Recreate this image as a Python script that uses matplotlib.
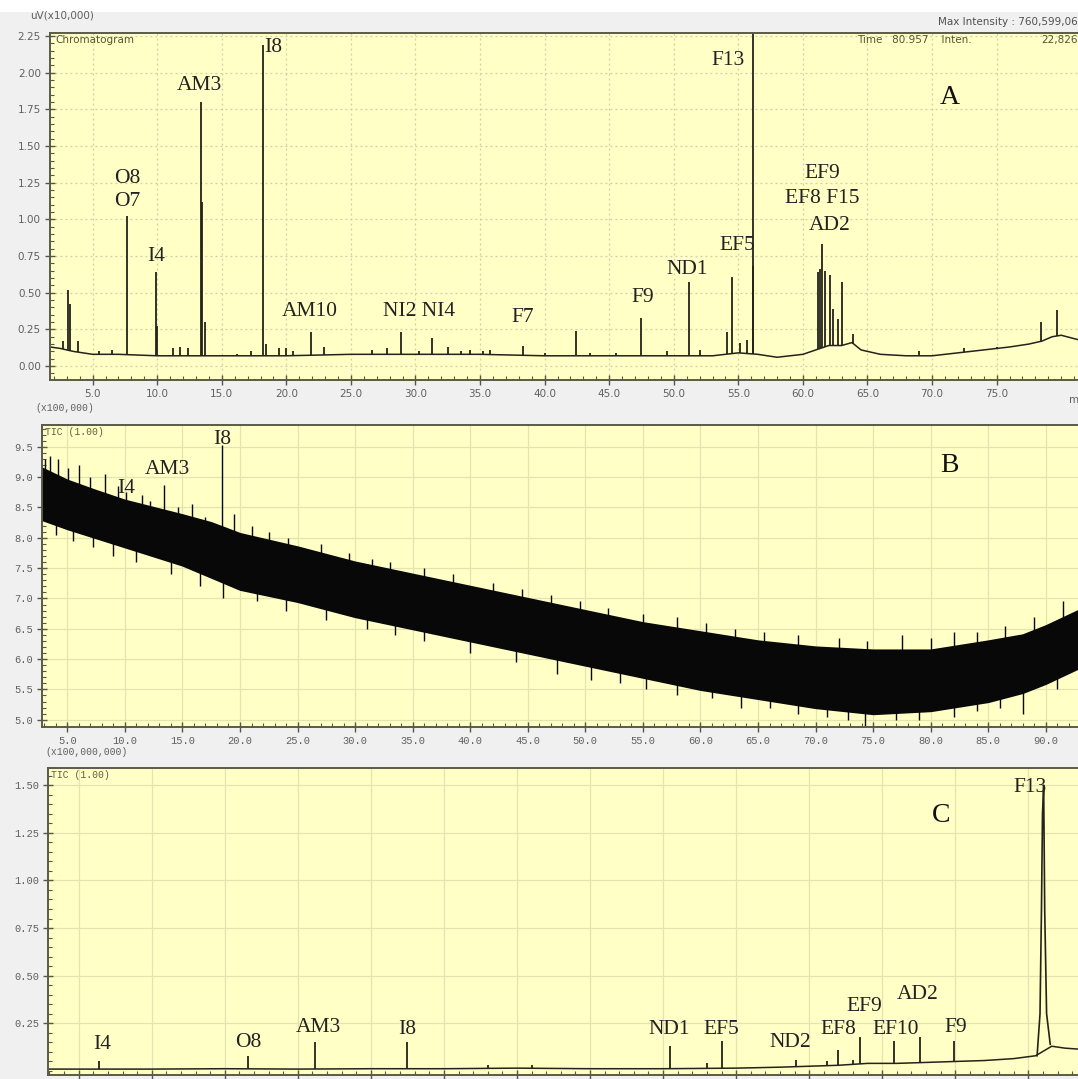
import numpy as np
import matplotlib as mpl
import matplotlib.pyplot as plt
from matplotlib.patches import Rectangle

mpl.use('Agg')

# ---------------- Panel A (uV x10,000) ----------------
a_base_t = [1.7, 2.5, 3.5, 5, 7, 10, 15, 20, 25, 30, 35, 40, 45, 50, 53, 55, 56.5, 58,
            60, 61, 62, 63, 63.8, 64.5, 66, 68, 70, 72, 74, 76, 77.5, 78.5, 79.3, 80, 81.3]
a_base_v = [0.13, 0.12, 0.10, 0.08, 0.08, 0.07, 0.07, 0.07, 0.08, 0.08, 0.08, 0.07, 0.07, 0.07,
            0.07, 0.09, 0.08, 0.06, 0.08, 0.11, 0.14, 0.14, 0.16, 0.11, 0.08, 0.07, 0.07, 0.09,
            0.11, 0.13, 0.15, 0.17, 0.20, 0.21, 0.18]
a_peak_t = [2.7, 3.1, 3.25, 3.9, 5.5, 6.5, 7.66, 9.9, 10.0, 11.2, 11.8, 12.4, 13.4, 13.5, 13.7,
            16.2, 17.3, 18.2, 18.4, 19.4, 20.0, 20.5, 21.9, 22.9, 24.5, 26.6, 27.8, 28.9, 30.3,
            31.3, 32.5, 33.5, 34.2, 35.2, 35.8, 38.3, 40.0, 42.4, 43.5, 45.5, 47.5, 49.5, 51.2,
            52.0, 54.1, 54.5, 55.1, 55.7, 56.1, 56.15, 61.2, 61.35, 61.5, 61.7, 62.1, 62.3,
            62.7, 63.0, 63.9, 65.5, 69.0, 72.5, 75.0, 78.4, 79.7]
a_peak_h = [0.17, 0.52, 0.42, 0.17, 0.10, 0.11, 1.02, 0.64, 0.27, 0.12, 0.13, 0.12, 1.80, 1.12,
            0.30, 0.08, 0.10, 2.19, 0.15, 0.12, 0.12, 0.10, 0.23, 0.13, 0.08, 0.11, 0.12, 0.23,
            0.10, 0.19, 0.13, 0.10, 0.11, 0.10, 0.11, 0.14, 0.09, 0.24, 0.09, 0.09, 0.33, 0.10,
            0.57, 0.11, 0.23, 0.61, 0.16, 0.18, 2.40, 0.68, 0.64, 0.66, 0.83, 0.65, 0.62, 0.39,
            0.32, 0.57, 0.22, 0.09, 0.10, 0.12, 0.13, 0.30, 0.38]
a_labels = ['O8', 'O7', 'I4', 'AM3', 'I8', 'AM10', 'NI2 NI4', 'F7', 'F9', 'ND1', 'EF5',
            'F13', 'EF9', 'EF8 F15', 'AD2']
a_label_t = [7.7, 7.7, 9.9, 13.3, 19.0, 21.8, 30.3, 38.3, 47.6, 51.0, 54.9, 55.5, 61.5, 61.5, 62.1]
a_label_y = [1.28, 1.12, 0.75, 1.91, 2.17, 0.37, 0.37, 0.33, 0.47, 0.66, 0.82, 2.08, 1.31, 1.14, 0.96]
a_xticks = [5, 10, 15, 20, 25, 30, 35, 40, 45, 50, 55, 60, 65, 70, 75]
a_yticks = [0.0, 0.25, 0.5, 0.75, 1.0, 1.25, 1.5, 1.75, 2.0, 2.25]

# ---------------- Panel B (TIC x100,000) ----------------
b_t = [2.8, 5, 7.5, 10, 12.5, 15, 17.5, 20, 25, 30, 35, 40, 45, 50, 55, 60, 65, 70, 75, 80,
       85, 88, 90, 92.8]
b_upper = [9.15, 8.95, 8.78, 8.62, 8.5, 8.38, 8.25, 8.07, 7.85, 7.6, 7.4, 7.2, 7.0, 6.8, 6.6,
           6.45, 6.3, 6.2, 6.15, 6.15, 6.3, 6.4, 6.55, 6.8]
b_lower = [8.30, 8.15, 8.0, 7.85, 7.7, 7.55, 7.35, 7.15, 6.95, 6.7, 6.5, 6.3, 6.1, 5.9, 5.7,
           5.5, 5.35, 5.2, 5.1, 5.15, 5.3, 5.45, 5.6, 5.85]
b_up_t = [3.1, 3.5, 4.2, 5.1, 6.0, 7.0, 8.3, 9.4, 10.1, 11.5, 12.2, 13.4, 14.6, 15.8, 17.0,
          18.4, 19.5, 21.0, 22.5, 24.2, 27.0, 29.5, 31.5, 33.0, 36.0, 38.5, 42.0, 44.5, 47.0,
          49.5, 52.0, 55.0, 58.0, 60.5, 63.0, 65.5, 68.5, 72.0, 74.5, 77.5, 80.0, 82.0, 84.0,
          86.5, 89.0, 91.5]
b_up_v = [9.3, 9.35, 9.3, 9.15, 9.2, 9.0, 9.05, 8.85, 8.76, 8.7, 8.6, 8.87, 8.5, 8.55, 8.35,
          9.53, 8.4, 8.2, 8.1, 8.0, 7.9, 7.75, 7.65, 7.6, 7.5, 7.4, 7.25, 7.15, 7.05, 6.95,
          6.85, 6.75, 6.7, 6.6, 6.5, 6.45, 6.4, 6.35, 6.3, 6.4, 6.35, 6.45, 6.45, 6.55, 6.7,
          6.95]
b_dn_t = [4.0, 5.5, 7.2, 9.0, 11.0, 14.0, 16.5, 18.5, 21.5, 24, 27.5, 31, 33.5, 36, 40, 44,
          47.5, 50.5, 53.0, 55.3, 58, 61, 63.5, 66, 68.5, 71, 72.8, 74.3, 77, 79, 82, 84, 86,
          88, 91.0]
b_dn_v = [8.05, 7.95, 7.85, 7.7, 7.6, 7.4, 7.2, 7.0, 6.95, 6.8, 6.65, 6.5, 6.4, 6.3, 6.1,
          5.95, 5.75, 5.65, 5.6, 5.5, 5.4, 5.35, 5.2, 5.2, 5.1, 5.05, 5.0, 4.85, 5.0, 5.0, 5.05,
          5.15, 5.2, 5.1, 5.5]
b_labels = ['I4', 'AM3', 'I8']
b_label_t = [10.1, 13.7, 18.5]
b_label_y = [8.82, 9.12, 9.62]
b_xticks = [5, 10, 15, 20, 25, 30, 35, 40, 45, 50, 55, 60, 65, 70, 75, 80, 85, 90]
b_yticks = [5.0, 5.5, 6.0, 6.5, 7.0, 7.5, 8.0, 8.5, 9.0, 9.5]

# ---------------- Panel C (TIC x100,000,000) ----------------
c_base_t = [2.9, 5, 10, 15, 20, 25, 30, 35, 40, 45, 50, 53, 55, 57, 59, 61, 63, 65, 67, 69,
            70.5, 71.6, 72.5, 73.4]
c_base_v = [0.010, 0.010, 0.010, 0.012, 0.010, 0.012, 0.012, 0.015, 0.012, 0.012, 0.015, 0.02,
            0.025, 0.03, 0.04, 0.04, 0.045, 0.05, 0.055, 0.065, 0.08, 0.13, 0.12, 0.115]
c_peak_t = [6.4, 16.6, 21.2, 27.5, 33.0, 36.0, 45.5, 48.0, 49.0, 54.1, 56.2, 57.0, 58.0, 58.5,
            60.8, 62.6, 64.9]
c_peak_h = [0.05, 0.08, 0.15, 0.15, 0.03, 0.03, 0.13, 0.04, 0.16, 0.06, 0.05, 0.11, 0.06, 0.18,
            0.16, 0.18, 0.16]
c_f13_t = [70.6, 70.8, 70.9, 70.97, 71.05, 71.12, 71.25, 71.5]
c_f13_v = [0.08, 0.30, 0.85, 1.35, 1.50, 0.85, 0.30, 0.14]
c_labels = ['I4', 'O8', 'AM3', 'I8', 'ND1', 'EF5', 'ND2', 'EF8', 'EF9', 'EF10', 'AD2', 'F9', 'F13']
c_label_t = [6.6, 16.6, 21.4, 27.5, 45.4, 49.0, 53.7, 57.0, 58.8, 60.9, 62.4, 65.0, 70.1]
c_label_y = [0.14, 0.15, 0.23, 0.22, 0.22, 0.22, 0.15, 0.22, 0.34, 0.22, 0.40, 0.23, 1.49]
c_xticks = [5, 10, 15, 20, 25, 30, 35, 40, 45, 50, 55, 60, 65, 70]
c_yticks = [0.25, 0.5, 0.75, 1.0, 1.25, 1.5]

W, H = 1078, 1079
BG = '#f0f0f0'
PLOT_BG = '#ffffc6'
TRACE = '#23231a'
TICK_COL = '#606060'
SERIF = 'Liberation Serif'
MONO = 'Liberation Mono'
PEAK_FS = 15.5


def px_box(x0, y0, x1, y1):
    # pixel box (top-left origin) -> figure fraction rect
    return [x0 / W, 1 - y1 / H, (x1 - x0) / W, (y1 - y0) / H]


def style_axes(ax, cfg):
    ax.set_facecolor(PLOT_BG)
    ax.set_xlim(cfg['xlim'])
    ax.set_ylim(cfg['ylim'])
    ax.set_xticks(cfg['xticks'])
    ax.set_yticks(cfg['yticks'])
    ax.set_xticklabels([cfg['xfmt'].format(v) for v in cfg['xticks']])
    ax.set_yticklabels([cfg['yfmt'].format(v) for v in cfg['yticks']])
    ax.xaxis.set_minor_locator(mpl.ticker.MultipleLocator(cfg['xminor']))
    ax.yaxis.set_minor_locator(mpl.ticker.MultipleLocator(cfg['yminor']))
    ax.tick_params(which='major', direction='inout', length=7, width=1.0, color='#555548',
                   labelsize=cfg['labelsize'], labelcolor=TICK_COL, pad=3)
    ax.tick_params(which='minor', direction='in', length=3, width=0.8, color='#555548')
    for lab in ax.get_xticklabels() + ax.get_yticklabels():
        lab.set_family(cfg['tickfont'])
    ax.grid(True, which='major', color=cfg['gridcolor'], linestyle=cfg['gridstyle'], lw=0.9)
    ax.set_axisbelow(True)
    for side in ['left', 'bottom', 'top']:
        ax.spines[side].set_color('#5a5a48')
        ax.spines[side].set_linewidth(1.4)
    ax.spines['right'].set_visible(False)


fig = plt.figure(figsize=(W / 100, H / 100), dpi=100, facecolor=BG)
fig.patches.append(Rectangle((0, 1 - 12 / H), 1, 12 / H, transform=fig.transFigure,
                             facecolor='white', edgecolor='none', zorder=-1))

# ---- A ----
axA = fig.add_axes(px_box(50, 33, 1078, 380))
style_axes(axA, {'xlim': (1.7, 81.3), 'ylim': (-0.095, 2.27), 'xticks': a_xticks,
                 'yticks': a_yticks, 'xfmt': '{:.1f}', 'yfmt': '{:.2f}', 'xminor': 1,
                 'yminor': 0.05, 'labelsize': 7.5, 'tickfont': 'DejaVu Sans',
                 'gridcolor': '#cfcfa6', 'gridstyle': (0, (1.5, 2.5))})
axA.plot(a_base_t, a_base_v, color=TRACE, lw=1.1)
axA.vlines(a_peak_t, np.interp(a_peak_t, a_base_t, a_base_v), a_peak_h, color=TRACE, lw=1.3)
for lab, t, y in zip(a_labels, a_label_t, a_label_y):
    axA.text(t, y, lab, ha='right' if lab == 'F13' else 'center', va='center',
             family=SERIF, fontsize=PEAK_FS, color='#222222')
axA.text(71.4, 1.83, 'A', ha='center', va='center', family=SERIF, fontsize=20, color='#111111')
axA.text(0.005, 0.995, 'Chromatogram', transform=axA.transAxes, ha='left', va='top',
         fontsize=7.5, color='#555530')
axA.text(0.785, 0.995, 'Time   80.957    Inten.', transform=axA.transAxes, ha='left',
         va='top', fontsize=7.5, color='#555530')
axA.text(1.0, 0.995, '22,826', transform=axA.transAxes, ha='right', va='top', fontsize=7.5,
         color='#555530')
axA.text(80.6, -0.23, 'min', ha='left', va='center', fontsize=7.5, color=TICK_COL)
fig.text(30 / W, 1 - 16 / H, 'uV(x10,000)', ha='left', va='center', fontsize=7.5, color=TICK_COL)
fig.text(1.0, 1 - 22 / H, 'Max Intensity : 760,599,06', ha='right', va='center',
         fontsize=7.5, color='#505050')

# ---- B ----
axB = fig.add_axes(px_box(42, 425, 1078, 727))
style_axes(axB, {'xlim': (2.8, 92.8), 'ylim': (4.88, 9.86), 'xticks': b_xticks,
                 'yticks': b_yticks, 'xfmt': '{:.1f}', 'yfmt': '{:.1f}', 'xminor': 1,
                 'yminor': 0.1, 'labelsize': 7.5, 'tickfont': MONO,
                 'gridcolor': '#e4e4b0', 'gridstyle': '-'})
axB.fill_between(b_t, b_lower, b_upper, color='#080808', lw=1.5, edgecolor='#080808')
axB.vlines(b_up_t, np.interp(b_up_t, b_t, b_lower), b_up_v, color='#080808', lw=1.0)
axB.vlines(b_dn_t, b_dn_v, np.interp(b_dn_t, b_t, b_upper), color='#080808', lw=1.0)
for lab, t, y in zip(b_labels, b_label_t, b_label_y):
    axB.text(t, y, lab, ha='center', va='center', family=SERIF, fontsize=PEAK_FS,
             color='#222222')
axB.text(81.6, 9.2, 'B', ha='center', va='center', family=SERIF, fontsize=20, color='#111111')
axB.text(0.003, 0.995, 'TIC (1.00)', transform=axB.transAxes, ha='left', va='top',
         family=MONO, fontsize=7, color='#606040')
fig.text(35 / W, 1 - 408 / H, '(x100,000)', ha='left', va='center', family=MONO,
         fontsize=7, color=TICK_COL)

# ---- C ----
axC = fig.add_axes(px_box(48, 768, 1078, 1075))
style_axes(axC, {'xlim': (2.9, 73.4), 'ylim': (-0.021, 1.59), 'xticks': c_xticks,
                 'yticks': c_yticks, 'xfmt': '{:.1f}', 'yfmt': '{:.2f}', 'xminor': 1,
                 'yminor': 0.05, 'labelsize': 7.5, 'tickfont': MONO,
                 'gridcolor': '#e4e4b0', 'gridstyle': '-'})
axC.plot(c_base_t, c_base_v, color=TRACE, lw=1.1)
axC.vlines(c_peak_t, np.interp(c_peak_t, c_base_t, c_base_v), c_peak_h, color=TRACE, lw=1.3)
axC.plot(c_f13_t, c_f13_v, color=TRACE, lw=1.2)
for lab, t, y in zip(c_labels, c_label_t, c_label_y):
    axC.text(t, y, lab, ha='center', va='center', family=SERIF, fontsize=PEAK_FS,
             color='#222222')
axC.text(64.0, 1.34, 'C', ha='center', va='center', family=SERIF, fontsize=20, color='#111111')
axC.text(0.003, 0.995, 'TIC (1.00)', transform=axC.transAxes, ha='left', va='top',
         family=MONO, fontsize=7, color='#606040')
fig.text(45 / W, 1 - 752 / H, '(x100,000,000)', ha='left', va='center', family=MONO,
         fontsize=7, color=TICK_COL)

fig.savefig('out.png', dpi=100, facecolor=BG)
